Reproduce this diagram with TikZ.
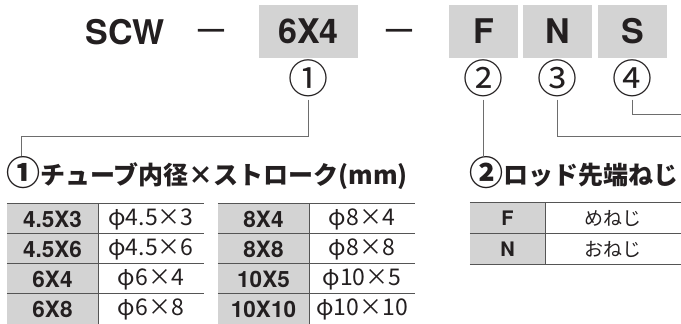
\documentclass[tikz,border=0pt]{standalone}
\usepackage{fontspec}
\setmainfont{TeX Gyre Heros}
\newfontfamily\jpfont{Noto Sans CJK JP}
\usepackage{tikz}
\definecolor{boxgray}{HTML}{D3D3D3}
\definecolor{leadgray}{HTML}{6D6D6D}
\definecolor{rulegray}{HTML}{555555}
\definecolor{ink}{HTML}{231F20}
\newcommand{\bignum}[1]{{\fontsize{34}{34}\selectfont\raisebox{-1.5pt}{#1}}}
\tikzset{
  code/.style={fill=boxgray, minimum height=53pt, inner sep=0pt, text=ink, font=\bfseries\fontsize{34}{34}\selectfont},
  circ/.style={inner sep=0pt, outer sep=3pt, text=ink, font=\jpfont\fontsize{40}{40}\selectfont},
  head/.style={anchor=west, inner sep=0pt, text=ink, font=\jpfont\bfseries\fontsize{25}{25}\selectfont},
  key/.style={fill=boxgray, minimum height=30pt, inner sep=0pt, text=ink, font=\bfseries\fontsize{22.5}{22.5}\selectfont},
  val/.style={minimum height=30pt, inner sep=0pt, text=ink, font=\jpfont\fontsize{23}{23}\selectfont},
  lead/.style={draw=leadgray, line width=1pt},
  rule/.style={draw=rulegray, line width=1.2pt},
}

\begin{document}
\begin{tikzpicture}[x=1pt, y=-1pt]
    \useasboundingbox (0,0) rectangle (681,324);

    \node[text=ink, font=\bfseries\fontsize{34}{34}\selectfont, inner sep=0pt] (scw) at (125,32) {SCW};
    \node[text=ink, font=\bfseries\fontsize{26}{26}\selectfont, inner sep=0pt, anchor=base] (dash1) at (211,37.5) {—};
    \node[code, minimum width=99pt] (size) at (308.5,31.5) {6X4};
    \node[text=ink, font=\bfseries\fontsize{26}{26}\selectfont, inner sep=0pt, anchor=base] (dash2) at (399,37.5) {—};
    \node[code, minimum width=69pt] (rod) at (483.5,31.5) {F};
    \node[code, minimum width=69pt] (opt3) at (557.5,31.5) {N};
    \node[code, minimum width=69pt] (opt4) at (632.5,31.5) {S};

    \node[circ] (c1) at (308,78) {①};
    \node[circ] (c2) at (483,78) {②};
    \node[circ] (c3) at (557,78) {③};
    \node[circ] (c4) at (632,78) {④};

    \node[head] (h1) at (6,173) {\bignum{①}チューブ内径×ストローク(mm)};
    \node[head] (h2) at (469,173) {\bignum{②}ロッド先端ねじ};

    \coordinate (k1) at (21,136);
    \coordinate (e3) at (681,136);
    \coordinate (e4) at (681,114);
    \draw[lead] (c1.south) |- (k1) -- (k1 |- h1.north);
    \draw[lead] (c2.south) -- (c2.south |- h2.north);
    \draw[lead] (c3.south) |- (e3);
    \draw[lead] (c4.south) |- (e4);

    \foreach \k/\v [count=\i] in {4.5X3/4.5×3, 4.5X6/4.5×6, 6X4/6×4, 6X8/6×8} {
        \node[key, minimum width=91pt] (a\i) at (52.5,189+30*\i) {\k};
        \node[val, minimum width=106pt] (b\i) at (151,189+30*\i) {φ\v};
        \draw[rule] (a\i.north west) -- (b\i.north east);
        \draw[rule, line width=0.8pt] (a\i.north east) -- (a\i.south east);
    }
    \foreach \k/\v [count=\i] in {8X4/8×4, 8X8/8×8, 10X5/10×5, 10X10/10×10} {
        \node[key, minimum width=91pt] (c\i) at (263.5,189+30*\i) {\k};
        \node[val, minimum width=106pt] (d\i) at (362,189+30*\i) {φ\v};
        \draw[rule] (c\i.north west) -- (d\i.north east);
        \draw[rule, line width=0.8pt] (c\i.north east) -- (c\i.south east);
    }

    \node[key, minimum width=75pt, minimum height=31pt, font=\bfseries\fontsize{20}{20}\selectfont] (f1) at (507.5,218.5) {F};
    \node[val, minimum width=136pt, minimum height=31pt, font=\jpfont\fontsize{19}{19}\selectfont] (g1) at (613,218.5) {めねじ};
    \node[key, minimum width=75pt, font=\bfseries\fontsize{20}{20}\selectfont] (f2) at (507.5,249) {N};
    \node[val, minimum width=136pt, font=\jpfont\fontsize{19}{19}\selectfont] (g2) at (613,249) {おねじ};
    \draw[rule] (f1.north west) -- (g1.north east);
    \draw[rule] (f2.north west) -- (g2.north east);
    \draw[rule] (f2.south west) -- (g2.south east);
    \draw[rule, line width=0.8pt] (f1.north east) -- (f2.south east);
\end{tikzpicture}
\end{document}
